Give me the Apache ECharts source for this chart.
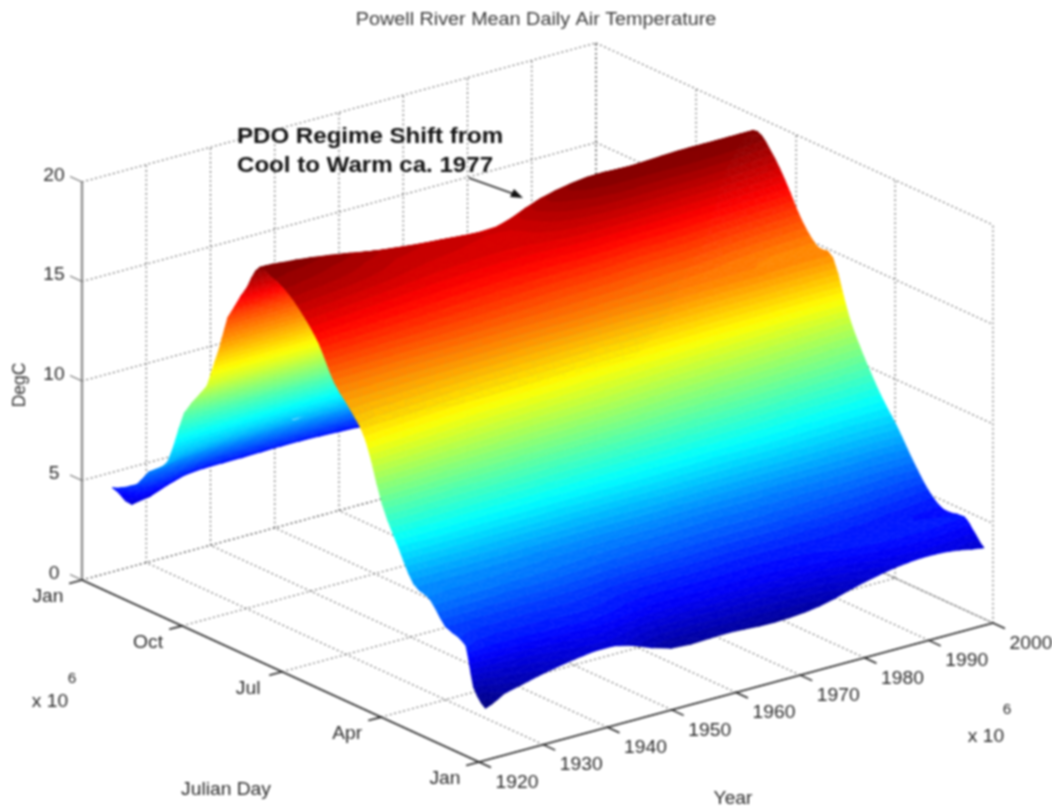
<!DOCTYPE html>
<html>
<head>
<meta charset="utf-8">
<style>
html,body{margin:0;padding:0;background:#fff}
#chart{width:1052px;height:810px;filter:blur(0.9px)}
</style>
<script src="https://cdn.jsdelivr.net/npm/echarts@6/dist/echarts.min.js"></script>
</head>
<body>
<div id="chart"></div>
<script>
// ---- tick values and labels -------------------------------------------
const yearTicks = [1920,1930,1940,1950,1960,1970,1980,1990,2000];
const dayTicks = [0,90,181,273,365];
const dayTickLabels = ['Jan','Apr','Jul','Oct','Jan'];
const tempTicks = [0,5,10,15,20];

// ---- surface samples --------------------------------------------------
const sampleYears = [1921,1924,1932,1941,1950,1959,1966,1973,1980,1987,1993,1998.6];
const sampleDays = [0,11,18,37,51,66,80,95,110,124,139,153,168,183,197,208,219,237,245,256,277,292,310,321,343];
const tDay0   = [2.6,3.1,3.7,4.0,3.1,3.1,3.0,3.2,3.8,4.2,4.2,3.9];
const tDay11  = [3.4,3.8,4.3,4.6,3.9,3.9,3.9,4.1,4.5,4.8,4.8,4.6];
const tDay18  = [5.3,5.0,5.0,5.1,4.6,4.6,4.6,4.7,5.0,5.2,5.1,5.0];
const tDay37  = [5.8,5.8,5.7,5.7,5.4,5.4,5.3,5.3,5.3,5.2,5.0,4.9];
const tDay51  = [6.8,6.7,6.6,6.5,6.3,6.2,6.1,6.1,6.0,5.9,5.7,5.5];
const tDay66  = [7.2,7.2,7.2,7.1,7.0,7.0,6.9,6.9,6.8,6.8,6.7,6.7];
const tDay80  = [8.7,8.7,8.6,8.5,8.4,8.4,8.3,8.2,8.2,8.1,8.0,8.0];
const tDay95  = [10.5,10.5,10.3,10.2,10.0,9.9,9.8,9.7,9.6,9.4,9.3,9.2];
const tDay110 = [13.3,13.1,12.7,12.3,12.1,11.9,11.6,11.4,11.3,11.1,10.9,10.7];
const tDay124 = [14.5,14.4,14.2,13.9,13.7,13.4,13.3,13.1,12.9,12.7,12.5,12.4];
const tDay139 = [15.5,15.5,15.4,15.4,15.3,15.3,15.2,15.2,15.1,15.1,15.0,15.0];
const tDay153 = [17.1,17.0,16.8,16.6,16.4,16.2,16.1,15.9,15.8,15.5,15.3,15.2];
const tDay168 = [18.2,18.1,17.8,17.5,17.3,17.2,17.2,17.0,16.9,16.6,16.4,16.2];
const tDay183 = [19.0,18.9,18.6,18.2,18.0,18.0,18.3,18.4,18.3,18.2,18.0,17.8];
const tDay197 = [19.4,19.3,19.0,18.5,18.3,18.2,18.9,19.3,19.3,19.3,19.2,19.0];
const tDay208 = [19.55,19.5,19.2,18.7,18.4,18.3,19.1,19.55,19.5,19.6,19.6,19.6];
const tDay219 = [18.3,18.3,18.3,18.1,17.9,17.8,18.6,19.0,19.0,19.1,19.1,19.1];
const tDay237 = [16.3,16.3,16.4,16.4,16.4,16.4,16.7,17.0,17.0,17.0,17.0,17.0];
const tDay245 = [14.5,14.6,14.7,14.8,14.9,15.0,15.2,15.4,15.4,15.4,15.4,15.4];
const tDay256 = [12.4,12.5,12.6,12.7,12.8,12.9,13.0,13.0,13.0,13.0,13.0,13.0];
const tDay277 = [10.5,10.4,10.3,10.3,10.3,10.3,10.4,10.5,10.5,10.5,10.5,10.5];
const tDay292 = [7.7,8.0,8.3,8.4,8.4,8.4,8.3,8.2,8.2,8.2,8.2,8.2];
const tDay310 = [6.7,6.8,7.0,7.1,7.1,7.0,6.8,6.5,6.5,6.5,6.5,6.5];
const tDay321 = [5.8,5.8,6.2,6.3,6.3,6.2,6.0,5.6,5.6,5.5,5.5,5.5];
const tDay343 = [5.1,4.0,4.75,4.85,4.9,4.8,4.7,4.7,4.7,4.7,4.7,4.7];
const temps = [tDay0,tDay11,tDay18,tDay37,tDay51,tDay66,tDay80,tDay95,tDay110,tDay124,tDay139,tDay153,tDay168,tDay183,tDay197,tDay208,tDay219,tDay237,tDay245,tDay256,tDay277,tDay292,tDay310,tDay321,tDay343];

// ---- 3D view: maps (year, day, temperature) onto the flat cartesian grid
const YEAR_MIN=1920, YEAR_MAX=2000, DAY_MAX=365, TEMP_MAX=20;
const view = {ox:479, oy:762, ux:514, uy:-139, vx:-397, vy:-182, zy:-398};
function project(y,d,t){
  const u=(y-YEAR_MIN)/(YEAR_MAX-YEAR_MIN), v=d/DAY_MAX, w=t/TEMP_MAX;
  return [view.ox+u*view.ux+v*view.vx, view.oy+u*view.uy+v*view.vy+w*view.zy];
}

// ---- jet colour map ----------------------------------------------------
function jet(f){
  const c=x=>Math.max(0,Math.min(1,x));
  const r=c(Math.min(4*f-1.5,-4*f+4.5)), g=c(Math.min(4*f-0.5,-4*f+3.5)), b=c(Math.min(4*f+0.5,-4*f+2.5));
  return 'rgb('+Math.round(r*255)+','+Math.round(g*255)+','+Math.round(b*255)+')';
}
const allT=temps.flat();
const tMin=Math.min(...allT), tMax=Math.max(...allT);
const LEVELS=64;

function clip(poly,keep,level){
  const out=[];
  for(let i=0;i<poly.length;i++){
    const a=poly[i], b=poly[(i+1)%poly.length];
    const ka=keep(a[2]), kb=keep(b[2]);
    if(ka) out.push(a);
    if(ka!==kb){
      const s=(level-a[2])/(b[2]-a[2]);
      out.push([a[0]+s*(b[0]-a[0]),a[1]+s*(b[1]-a[1]),level]);
    }
  }
  return out;
}
function bands(tri,api,base,children){
  const zs=tri.map(p=>p[2]);
  const lo=Math.min(...zs), hi=Math.max(...zs);
  const step=(tMax-tMin)/LEVELS;
  const iLo=Math.floor((lo-tMin)/step), iHi=Math.floor((hi-tMin)/step);
  for(let k=iLo;k<=iHi;k++){
    const a=tMin+k*step, b=a+step;
    let p=clip(tri,z=>z>=a,a);
    if(p.length) p=clip(p,z=>z<=b,b);
    if(p.length<3) continue;
    const col=jet(Math.max(0,Math.min(1,(k+0.5)/LEVELS)));
    children.push({type:'polygon',z2:base,shape:{points:p.map(q=>api.coord(project(q[0],q[1],q[2])))},
      style:{fill:col,stroke:col,lineWidth:0.6},silent:true});
  }
}

// smooth drawing of the sampled sheet between samples (like a smoothed line)
function cr(p0,p1,p2,p3,t){
  return 0.5*((2*p1)+(-p0+p2)*t+(2*p0-5*p1+4*p2-p3)*t*t+(-p0+3*p1-3*p2+p3)*t*t*t);
}
const nC=sampleYears.length, nR=sampleDays.length;
function sheet(c,r,fc,fr){
  const col=[];
  for(let j=-1;j<=2;j++){
    const R=temps[Math.max(0,Math.min(nR-1,r+j))];
    col.push(cr(R[Math.max(0,c-1)],R[c],R[Math.min(nC-1,c+1)],R[Math.min(nC-1,c+2)],fc));
  }
  return cr(col[0],col[1],col[2],col[3],fr);
}
const SUB=3;
function node(c,r,i,j){
  const fc=i/SUB, fr=j/SUB;
  return [sampleYears[c]+fc*(sampleYears[c+1]-sampleYears[c]),
          sampleDays[r]+fr*(sampleDays[r+1]-sampleDays[r]),
          sheet(c,r,fc,fr)];
}

// painter's order: far rows first, far years first
const cells=[];
for(let r=nR-2;r>=0;r--){
  for(let c=nC-2;c>=0;c--) cells.push([c,r]);
}
function renderCell(params,api){
  const c=api.value(0), r=api.value(1);
  const children=[];
  let n=params.dataIndex*(2*SUB*SUB);
  for(let j=SUB-1;j>=0;j--){
    for(let i=SUB-1;i>=0;i--){
      const a=node(c,r,i,j), b=node(c,r,i+1,j), d=node(c,r,i+1,j+1), e=node(c,r,i,j+1);
      bands([e,d,b],api,n++,children);
      bands([e,b,a],api,n++,children);
    }
  }
  return {type:'group',children};
}

// ---- frame -------------------------------------------------------------
const frame=[];
function seg(a,b,kind){frame.push({a,b,kind});}
yearTicks.forEach(y=>{
  seg([y,0,0],[y,DAY_MAX,0],'grid');
  seg([y,DAY_MAX,0],[y,DAY_MAX,TEMP_MAX],'grid');
});
dayTicks.forEach(d=>{
  seg([YEAR_MIN,d,0],[YEAR_MAX,d,0],'grid');
  seg([YEAR_MAX,d,0],[YEAR_MAX,d,TEMP_MAX],'grid');
});
tempTicks.forEach(t=>{
  seg([YEAR_MIN,DAY_MAX,t],[YEAR_MAX,DAY_MAX,t],'grid');
  seg([YEAR_MAX,DAY_MAX,t],[YEAR_MAX,0,t],'grid');
});
seg([YEAR_MIN,DAY_MAX,0],[YEAR_MIN,DAY_MAX,TEMP_MAX],'zaxis');
seg([YEAR_MIN,0,0],[YEAR_MAX,0,0],'axis');
seg([YEAR_MIN,0,0],[YEAR_MIN,DAY_MAX,0],'axis');
yearTicks.forEach(y=>seg([y,0,0],[y,-11,0],'axis'));
dayTicks.forEach(d=>seg([YEAR_MIN,d,0],[YEAR_MIN-2,d,0],'axis'));
tempTicks.forEach(t=>seg([YEAR_MIN,DAY_MAX,t],[YEAR_MIN,DAY_MAX+11,t],'tick'));

const frameStyle={
  grid:{stroke:'#444',lineWidth:1.1,lineDash:[1.6,3]},
  zaxis:{stroke:'#8f8f8f',lineWidth:2.4},
  axis:{stroke:'#222',lineWidth:1.6},
  tick:{stroke:'#555',lineWidth:1}
};
function renderFrame(params,api){
  const s=frame[api.value(0)];
  const p=api.coord(project(...s.a)), q=api.coord(project(...s.b));
  return {type:'line',shape:{x1:p[0],y1:p[1],x2:q[0],y2:q[1]},style:frameStyle[s.kind],silent:true};
}

// ---- tick labels -------------------------------------------------------
const labelFont='17.5px "Liberation Sans", Arial, sans-serif';
const STRETCH=1.1;
const labels=[];
yearTicks.forEach(y=>labels.push({text:String(y),at:[y,0,0],dx:38,dy:21}));
dayTicks.forEach((d,i)=>labels.push({text:dayTickLabels[i],at:[YEAR_MIN,d,0],dx:-34,dy:17}));
tempTicks.forEach(t=>labels.push({text:String(t),at:[YEAR_MIN,DAY_MAX,t],dx:-28,dy:-6}));
function renderLabel(params,api){
  const l=labels[api.value(0)];
  const p=api.coord(project(...l.at));
  return {type:'text',silent:true,x:p[0]+l.dx,y:p[1]+l.dy,scaleX:STRETCH,
    style:{text:l.text,x:0,y:0,fill:'#2a2a2a',font:labelFont,textAlign:'center',textVerticalAlign:'middle'}};
}

const txt=(text,x,y,extra)=>Object.assign({type:'text',silent:true,x,y,scaleX:STRETCH,
  style:Object.assign({text,fill:'#2a2a2a',font:labelFont,textAlign:'center',textVerticalAlign:'middle'},(extra&&extra.style)||{})},(extra&&extra.el)||{});
const boldFont='bold 21.5px "Liberation Sans", Arial, sans-serif';
const smallFont='14px "Liberation Sans", Arial, sans-serif';

const chart=echarts.init(document.getElementById('chart'),null,{renderer:'canvas',width:1052,height:810});
chart.setOption({
  animation:false,
  backgroundColor:'#ffffff',
  grid:{left:0,top:0,width:1052,height:810},
  xAxis:{type:'value',min:0,max:1052,show:false},
  yAxis:{type:'value',min:0,max:810,inverse:true,show:false},
  tooltip:{show:false},
  series:[
    {type:'custom',name:'frame',z:1,coordinateSystem:'cartesian2d',clip:false,renderItem:renderFrame,
      encode:{x:1,y:1},data:frame.map((_,i)=>[i,0])},
    {type:'custom',name:'surface',z:2,coordinateSystem:'cartesian2d',clip:false,renderItem:renderCell,progressive:0,
      encode:{x:2,y:2},data:cells.map(c=>[c[0],c[1],0])},
    {type:'custom',name:'labels',z:3,coordinateSystem:'cartesian2d',clip:false,renderItem:renderLabel,
      encode:{x:1,y:1},data:labels.map((_,i)=>[i,0])}
  ],
  graphic:[
    txt('Powell River Mean Daily Air Temperature',536,20,{el:{scaleX:1.13},style:{fill:'#3a3a3a'}}),
    txt('PDO Regime Shift from',237,137,{el:{scaleX:1.12},style:{font:boldFont,fill:'#111',textAlign:'left'}}),
    txt('Cool to Warm ca. 1977',237,166,{el:{scaleX:1.12},style:{font:boldFont,fill:'#111',textAlign:'left'}}),
    {type:'line',silent:true,shape:{x1:469,y1:178,x2:514,y2:194},style:{stroke:'#222',lineWidth:1.4}},
    {type:'polygon',silent:true,shape:{points:[[523,198],[510,197],[514,189]]},style:{fill:'#111'}},
    txt('DegC',20,385,{el:{rotation:Math.PI/2,scaleX:1,scaleY:1.1}}),
    txt('Julian Day',226,790),
    txt('Year',733,799),
    txt('x 10',50,702),
    txt('6',72,679,{style:{font:smallFont}}),
    txt('x 10',986,737),
    txt('6',1007,710,{style:{font:smallFont}})
  ]
});
</script>
</body>
</html>
